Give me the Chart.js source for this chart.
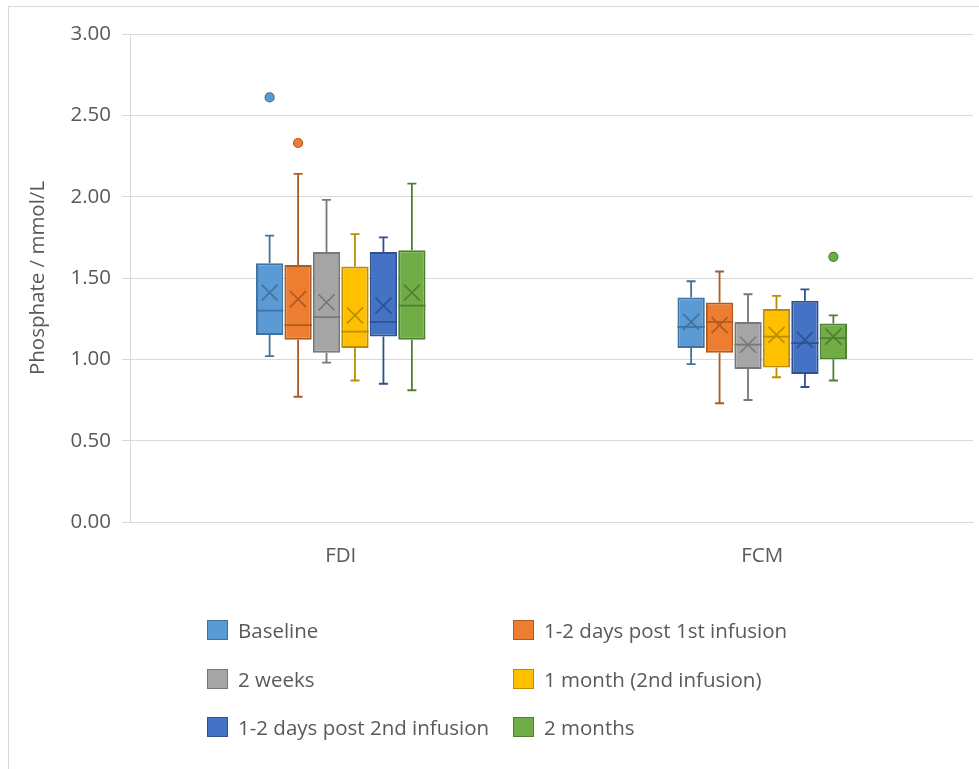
<!DOCTYPE html>
<html>
<head>
<meta charset="utf-8">
<title>Phosphate by visit</title>
<script src="https://cdn.jsdelivr.net/npm/chart.js@4.4.1/dist/chart.umd.min.js"></script>
<style>
  html, body { margin: 0; padding: 0; background: #fff; }
  #wrap { position: relative; width: 979px; height: 769px; overflow: hidden; font-family: "Open Sans", sans-serif; }
  #frame { position: absolute; left: 8px; top: 6px; width: 1000px; height: 800px; border: 1px solid #d9d9d9; box-sizing: border-box; }
  #chart { position: absolute; left: 0; top: 0; }
  #legend { position: absolute; left: 0; top: 0; width: 979px; height: 769px; pointer-events: none; }
  .item { position: absolute; height: 30px; display: flex; align-items: center; color: #595959; font-size: 20.5px; white-space: nowrap; }
  .swatch { width: 21px; height: 20px; box-sizing: border-box; border: 1px solid; margin-right: 10px; flex: none; }
</style>
</head>
<body>
<div id="wrap">
  <div id="frame"></div>
  <canvas id="chart" width="979" height="769"></canvas>
  <div id="legend"></div>
</div>
<script>
// Treatment groups on the x axis
const categories = ['FDI', 'FCM'];

// Visit series
const seriesLabels = [
  'Baseline',
  '1-2 days post 1st infusion',
  '2 weeks',
  '1 month (2nd infusion)',
  '1-2 days post 2nd infusion',
  '2 months'
];
const fillColors   = ['#5B9BD5', '#ED7D31', '#A5A5A5', '#FFC000', '#4472C4', '#70AD47'];
const strokeColors = ['#41719C', '#AE5A21', '#787878', '#BC8C00', '#2F528F', '#507E32'];

// Box statistics, one row per series, one column per category (FDI, FCM), mmol/L
const whiskerMin = [[1.02, 0.97], [0.77, 0.73], [0.98, 0.75], [0.87, 0.89], [0.85, 0.83], [0.81, 0.87]];
const quartile1  = [[1.15, 1.07], [1.12, 1.04], [1.04, 0.94], [1.07, 0.95], [1.14, 0.91], [1.12, 1.00]];
const medians    = [[1.30, 1.20], [1.21, 1.23], [1.26, 1.09], [1.17, 1.14], [1.23, 1.10], [1.33, 1.13]];
const quartile3  = [[1.59, 1.38], [1.58, 1.35], [1.66, 1.23], [1.57, 1.31], [1.66, 1.36], [1.67, 1.22]];
const whiskerMax = [[1.76, 1.48], [2.14, 1.54], [1.98, 1.40], [1.77, 1.39], [1.75, 1.43], [2.08, 1.27]];
const means      = [[1.41, 1.23], [1.37, 1.21], [1.35, 1.09], [1.27, 1.15], [1.33, 1.12], [1.41, 1.14]];
const outliers   = [[[2.61], []], [[2.33], []], [[], []], [[], []], [[], []], [[], [1.63]]];

// Y axis ticks
const yTickMin = 0;
const yTickMax = 3;
const yTickStep = 0.5;

const textColor = '#595959';
const gridColor = '#d9d9d9';
const baseFont = { family: '"Open Sans", sans-serif', size: 20.5 };

// Whiskers, medians, means and outliers drawn over the floating-bar boxes
const boxDetails = {
  id: 'boxDetails',
  afterDatasetsDraw(chart) {
    const ctx = chart.ctx;
    const y = chart.scales.y;
    chart.data.datasets.forEach((ds, i) => {
      const meta = chart.getDatasetMeta(i);
      meta.data.forEach((bar, j) => {
        const x = bar.x;
        const half = bar.width / 2;
        const stroke = strokeColors[i];
        ctx.save();
        ctx.strokeStyle = stroke;
        ctx.lineWidth = 1.8;
        const yMin = y.getPixelForValue(whiskerMin[i][j]);
        const yQ1 = y.getPixelForValue(quartile1[i][j]);
        const yQ3 = y.getPixelForValue(quartile3[i][j]);
        const yMax = y.getPixelForValue(whiskerMax[i][j]);
        const yMed = y.getPixelForValue(medians[i][j]);
        const yMean = y.getPixelForValue(means[i][j]);
        const cap = 4.5;
        ctx.beginPath();
        // upper whisker
        ctx.moveTo(x, yQ3); ctx.lineTo(x, yMax);
        ctx.moveTo(x - cap, yMax); ctx.lineTo(x + cap, yMax);
        // lower whisker
        ctx.moveTo(x, yQ1); ctx.lineTo(x, yMin);
        ctx.moveTo(x - cap, yMin); ctx.lineTo(x + cap, yMin);
        // median
        ctx.moveTo(x - half, yMed); ctx.lineTo(x + half, yMed);
        ctx.stroke();
        // mean marker
        const m = 8;
        ctx.lineWidth = 1.6;
        ctx.beginPath();
        ctx.moveTo(x - m, yMean - m); ctx.lineTo(x + m, yMean + m);
        ctx.moveTo(x - m, yMean + m); ctx.lineTo(x + m, yMean - m);
        ctx.stroke();
        // outliers
        outliers[i][j].forEach(v => {
          ctx.beginPath();
          ctx.arc(x, y.getPixelForValue(v), 4.5, 0, Math.PI * 2);
          ctx.fillStyle = fillColors[i];
          ctx.fill();
          ctx.lineWidth = 1.2;
          ctx.stroke();
        });
        ctx.restore();
      });
    });
  }
};

const datasets = seriesLabels.map((label, i) => ({
  label,
  data: categories.map((c, j) => [quartile1[i][j], quartile3[i][j]]),
  backgroundColor: fillColors[i],
  borderColor: strokeColors[i],
  borderWidth: 2,
  borderSkipped: false,
  categoryPercentage: 0.405,
  barPercentage: 0.96
}));

new Chart(document.getElementById('chart'), {
  type: 'bar',
  data: { labels: categories, datasets },
  options: {
    responsive: false,
    devicePixelRatio: 1,
    animation: false,
    layout: { padding: { left: 8, top: 34, right: 6, bottom: 187 } },
    plugins: {
      legend: { display: false },
      tooltip: { enabled: false }
    },
    scales: {
      x: {
        grid: { display: false },
        border: { display: true, color: gridColor, width: 1 },
        ticks: { color: textColor, font: baseFont, padding: 14 },
        afterFit: s => { s.height = 60; }
      },
      y: {
        min: yTickMin,
        max: yTickMax,
        ticks: {
          stepSize: yTickStep,
          color: textColor,
          font: baseFont,
          padding: 11,
          callback: v => Number(v).toFixed(2)
        },
        grid: { color: gridColor, lineWidth: 1, tickLength: 8 },
        border: { display: true, color: gridColor, width: 1 },
        title: {
          display: true,
          text: 'Phosphate / mmol/L',
          color: textColor,
          font: baseFont,
          padding: { top: 18, bottom: 0 }
        },
        afterFit: s => { s.width = 122; }
      }
    }
  },
  plugins: [boxDetails]
});

// Two-column legend below the plot
const legendCols = [207, 513];
const legendRows = [630, 679, 727];
const legendEl = document.getElementById('legend');
seriesLabels.forEach((label, i) => {
  const item = document.createElement('div');
  item.className = 'item';
  item.style.left = legendCols[i % 2] + 'px';
  item.style.top = (legendRows[Math.floor(i / 2)] - 15) + 'px';
  const sw = document.createElement('span');
  sw.className = 'swatch';
  sw.style.background = fillColors[i];
  sw.style.borderColor = strokeColors[i];
  const tx = document.createElement('span');
  tx.textContent = label;
  item.appendChild(sw);
  item.appendChild(tx);
  legendEl.appendChild(item);
});
</script>
</body>
</html>
